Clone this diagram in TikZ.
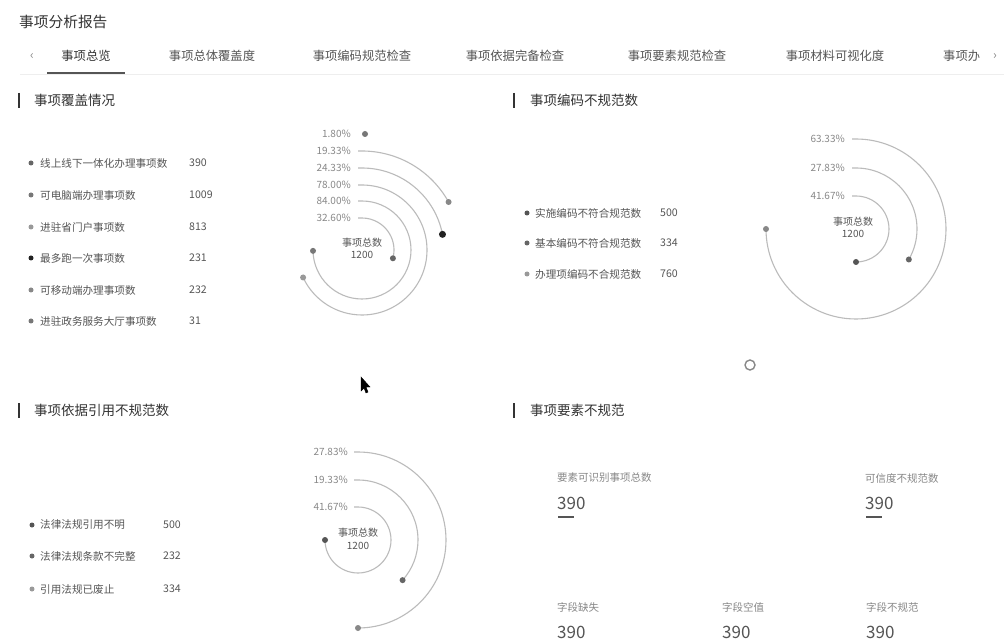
\documentclass[tikz,border=0pt]{standalone}
\usepackage{fontspec}
\setmainfont{Noto Sans CJK SC}
\definecolor{ctitle}{HTML}{333333}
\definecolor{ctext}{HTML}{555555}
\definecolor{clight}{HTML}{888888}
\definecolor{carc}{HTML}{BBBBBB}
\definecolor{crule}{HTML}{EEEEEE}
\tikzset{
  tab/.style={font=\fontsize{12.3}{14}\selectfont, text=ctext, inner sep=0},
  head/.style={font=\fontsize{13.5}{15}\selectfont, text=ctitle, anchor=west, inner sep=0},
  item/.style={font=\fontsize{10.6}{12}\selectfont, text=ctext, anchor=west, inner sep=0},
  pct/.style={font=\fontsize{10}{12}\selectfont, text=clight, anchor=east, inner sep=0},
  ctr/.style={font=\fontsize{10}{12}\selectfont, text=ctext, inner sep=0},
  ring/.style={draw=carc, line width=1.1pt},
  dotmark/.style={circle, inner sep=0, minimum size=6pt},
  bar/.style={draw=ctitle, line width=1.6pt},
  kpilbl/.style={font=\fontsize{10.5}{12}\selectfont, text=clight, anchor=west, inner sep=0},
  kpinum/.style={font=\fontsize{17}{19}\selectfont, text=ctext, anchor=west, inner sep=0},
}
% #1 name, #2 cx, #3 cy (screen px), #4 radius, #5 sweep, #6 dot colour
\newcommand\ringarc[6]{%
  \draw[ring] (#2-4,-#3+#4) -- (#2,-#3+#4) arc[start angle=90, end angle={90-#5}, radius=#4];
  \node[dotmark, fill=#6] (#1) at ({#2+#4*cos(90-#5)},{-#3+#4*sin(90-#5)}) {};
}
\begin{document}
\begin{tikzpicture}[x=1pt,y=1pt]
\useasboundingbox[fill=white] (0,0) rectangle (1004,-644);

% title
\node[anchor=west, font=\fontsize{14.7}{17}\selectfont, text=ctitle, inner sep=0] (title) at (19,-22) {事项分析报告};

% tabs
\draw[crule, line width=1pt] (20,-75) -- (1004,-75);
\node[tab, text=clight] (prev) at (32,-56) {‹};
\node[tab, text=ctitle] (t1) at (86,-56) {事项总览};
\node[tab] (t2) at (212,-56) {事项总体覆盖度};
\node[tab] (t3) at (362,-56) {事项编码规范检查};
\node[tab] (t4) at (515,-56) {事项依据完备检查};
\node[tab] (t5) at (677,-56) {事项要素规范检查};
\node[tab] (t6) at (835,-56) {事项材料可视化度};
\node[tab, anchor=west] (t7) at (943,-56) {事项办};
\node[tab, text=clight] (next) at (995,-56) {›};
\draw[ctext, line width=2pt] (47,-73) -- (125,-73);

% panel headers
\draw[bar] (19,-93) -- (19,-108);
\node[head] (h1) at (34,-100) {事项覆盖情况};
\draw[bar] (514,-93) -- (514,-108);
\node[head] (h2) at (530,-100) {事项编码不规范数};
\draw[bar] (19,-403) -- (19,-418);
\node[head] (h3) at (34,-410) {事项依据引用不规范数};
\draw[bar] (514,-403) -- (514,-418);
\node[head] (h4) at (530,-410) {事项要素不规范};

% ---------- panel 1 list
\foreach \y/\c/\t/\v [count=\i] in {163/666666/线上线下一体化办理事项数/390, 195/777777/可电脑端办理事项数/1009, 227/999999/进驻省门户事项数/813, 258/222222/最多跑一次事项数/231, 290/888888/可移动端办理事项数/232, 321/777777/进驻政务服务大厅事项数/31}{
  \definecolor{cc}{HTML}{\c}
  \node[dotmark, fill=cc, minimum size=5pt] (pa\i) at (31,-\y) {};
  \node[item] (pl\i) at (40,-\y) {\t};
  \node[item] (pv\i) at (189,-\y) {\v};
}

% panel 1 chart, centre (362,250)
\definecolor{d1}{HTML}{666666}\definecolor{d2}{HTML}{777777}\definecolor{d3}{HTML}{999999}
\definecolor{d4}{HTML}{222222}\definecolor{d5}{HTML}{888888}\definecolor{d6}{HTML}{777777}
\node[dotmark, fill=d6] (ra6) at (365,-134) {};
\ringarc{ra5}{362}{250}{99}{61}{d5}
\ringarc{ra4}{362}{250}{82}{79}{d4}
\node[dotmark, fill=d4, minimum size=7pt] at (ra4) {};
\ringarc{ra3}{362}{250}{65}{245}{d3}
\ringarc{ra2}{362}{250}{49}{269}{d2}
\ringarc{ra1}{362}{250}{32}{105}{d1}
\node[pct] (pa6l) at (351,-134) {1.80\%};
\node[pct] (pa5l) at (351,-151) {19.33\%};
\node[pct] (pa4l) at (351,-168) {24.33\%};
\node[pct] (pa3l) at (351,-185) {78.00\%};
\node[pct] (pa2l) at (351,-201) {84.00\%};
\node[pct] (pa1l) at (351,-218) {32.60\%};
\node[ctr] (c1a) at (362,-243) {事项总数};
\node[ctr] (c1b) at (362,-255) {1200};

% ---------- panel 2 list
\foreach \y/\c/\t/\v [count=\i] in {213/555555/实施编码不符合规范数/500, 243/666666/基本编码不符合规范数/334, 274/999999/办理项编码不合规范数/760}{
  \definecolor{cc}{HTML}{\c}
  \node[dotmark, fill=cc, minimum size=5pt] (pb\i) at (527,-\y) {};
  \node[item] (ql\i) at (535,-\y) {\t};
  \node[item] (qv\i) at (660,-\y) {\v};
}
% panel 2 chart, centre (856,229)
\definecolor{e1}{HTML}{555555}\definecolor{e2}{HTML}{666666}\definecolor{e3}{HTML}{888888}
\ringarc{rb3}{856}{229}{90}{270}{e3}
\ringarc{rb2}{856}{229}{61}{120}{e2}
\ringarc{rb1}{856}{229}{33}{180}{e1}
\node[pct] (pb3l) at (845,-139) {63.33\%};
\node[pct] (pb2l) at (845,-168) {27.83\%};
\node[pct] (pb1l) at (845,-196) {41.67\%};
\node[ctr] (c2a) at (853,-222) {事项总数};
\node[ctr] (c2b) at (853,-234) {1200};

% ---------- panel 3 list
\foreach \y/\c/\t/\v [count=\i] in {525/555555/法律法规引用不明/500, 556/666666/法律法规条款不完整/232, 589/999999/引用法规已废止/334}{
  \definecolor{cc}{HTML}{\c}
  \node[dotmark, fill=cc, minimum size=5pt] (pc\i) at (32,-\y) {};
  \node[item] (rl\i) at (40,-\y) {\t};
  \node[item] (rv\i) at (163,-\y) {\v};
}
% panel 3 chart, centre (358,540)
\ringarc{rc3}{358}{540}{88}{180}{e3}
\ringarc{rc2}{358}{540}{60}{132}{e2}
\ringarc{rc1}{358}{540}{33}{270}{e1}
\node[pct] (pc3l) at (348,-452) {27.83\%};
\node[pct] (pc2l) at (348,-480) {19.33\%};
\node[pct] (pc1l) at (348,-507) {41.67\%};
\node[ctr] (c3a) at (358,-533) {事项总数};
\node[ctr] (c3b) at (358,-546) {1200};

% ---------- panel 4 KPIs
\foreach \x/\y/\t [count=\i] in {557/478/要素可识别事项总数, 865/478/可信度不规范数, 557/607/字段缺失, 722/607/字段空值, 866/607/字段不规范}{
  \node[kpilbl] (kl\i) at (\x,-\y) {\t};
  \node[kpinum] (kn\i) at (\x,-\y-25) {390};
  \draw[ctext, line width=1.5pt] (\x+1,-\y-39) -- (\x+17,-\y-39);
}

% misc screen marks: pointer and loading icon
\filldraw[black] (361,-377) -- (361,-391) -- (364,-388) -- (366,-393) -- (368,-392) -- (366,-387) -- (370,-387) -- cycle;
\draw[clight, line width=1.4pt] (750,-365) circle (5);
\end{tikzpicture}
\end{document}
